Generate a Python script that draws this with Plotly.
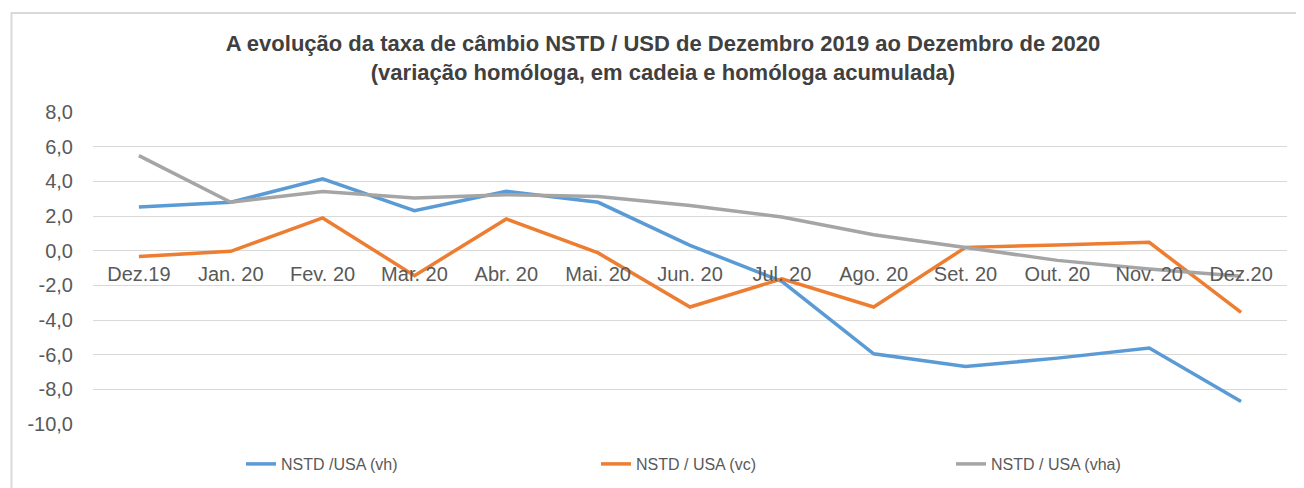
import plotly.graph_objects as go

categories = ["Dez.19", "Jan. 20", "Fev. 20", "Mar. 20", "Abr. 20", "Mai. 20", "Jun. 20",
              "Jul. 20", "Ago. 20", "Set. 20", "Out. 20", "Nov. 20", "Dez.20"]
vh = [2.52, 2.79, 4.14, 2.31, 3.42, 2.79, 0.31, -1.77, -5.95, -6.68, -6.20, -5.62, -8.70]
vc = [-0.33, -0.04, 1.89, -1.44, 1.83, -0.13, -3.25, -1.63, -3.25, 0.19, 0.33, 0.48, -3.56]
vha = [5.48, 2.79, 3.42, 3.04, 3.23, 3.13, 2.60, 1.94, 0.92, 0.16, -0.56, -1.06, -1.48]

series_names = ["NSTD /USA (vh)", "NSTD / USA (vc)", "NSTD / USA (vha)"]
series_colors = ["#5B9BD5", "#ED7D31", "#A5A5A5"]
y_ticks = [8, 6, 4, 2, 0, -2, -4, -6, -8, -10]
y_ticktext = [f"{v:.1f}".replace(".", ",") for v in y_ticks]

title_line1 = "A evolução da taxa de câmbio NSTD / USD de Dezembro 2019 ao Dezembro de 2020"
title_line2 = "(variação homóloga, em cadeia e homóloga acumulada)"

# The page body has an 8px default margin; the figure is sized to fill the
# remaining visible window area.
W, H = 1296, 480
ML, MR, MT, MB = 85, 17, 104, 64
plot_w = W - ML - MR
plot_h = H - MT - MB

fig = go.Figure()
for name, vals, col in zip(series_names, [vh, vc, vha], series_colors):
    fig.add_trace(go.Scatter(
        x=categories, y=vals, name=name, mode="lines",
        line=dict(color=col, width=3.5),
    ))

zero_frac = (0 - (-10)) / (8 - (-10))

fig.update_layout(
    width=W, height=H,
    margin=dict(l=ML, r=MR, t=MT, b=MB, autoexpand=False),
    paper_bgcolor="white", plot_bgcolor="white",
    font=dict(family="Liberation Sans, Arial", color="#595959"),
    title=dict(
        text="<b>" + title_line1 + "</b><br><b>" + title_line2 + "</b>",
        font=dict(size=22, color="#404040", family="Liberation Sans, Arial"),
        x=655 / W, xref="container", xanchor="center",
        y=1 - 43 / H, yref="container", yanchor="top",
    ),
    xaxis=dict(
        type="category", range=[-0.5, 12.5],
        showgrid=False, showline=False, zeroline=False,
        anchor="free", position=zero_frac,
        tickfont=dict(size=20, color="#595959"),
        ticks="", ticklabelstandoff=9,
    ),
    yaxis=dict(
        range=[-10, 8], tickvals=y_ticks, ticktext=y_ticktext,
        showgrid=True, gridcolor="#D9D9D9", gridwidth=1,
        zeroline=True, zerolinecolor="#D9D9D9", zerolinewidth=1,
        showline=False,
        tickfont=dict(size=20, color="#595959"),
        ticks="", ticklabelstandoff=19,
    ),
    showlegend=True,
    legend=dict(
        orientation="h", xref="container", x=233 / W, xanchor="left",
        y=-(456 - (H - MB)) / plot_h, yanchor="middle",
        font=dict(size=16, color="#595959"),
        entrywidth=310, entrywidthmode="pixels",
        bgcolor="rgba(0,0,0,0)",
    ),
    shapes=[dict(
        type="rect", xref="paper", yref="paper",
        x0=(3.5 - ML) / plot_w, x1=(W + 10 - ML) / plot_w,
        y0=-(H + 10 - (H - MB)) / plot_h, y1=((H - MB) - 5) / plot_h,
        line=dict(color="#D9D9D9", width=2), fillcolor="rgba(0,0,0,0)", layer="below",
    )],
)

fig.write_html("out.html")
